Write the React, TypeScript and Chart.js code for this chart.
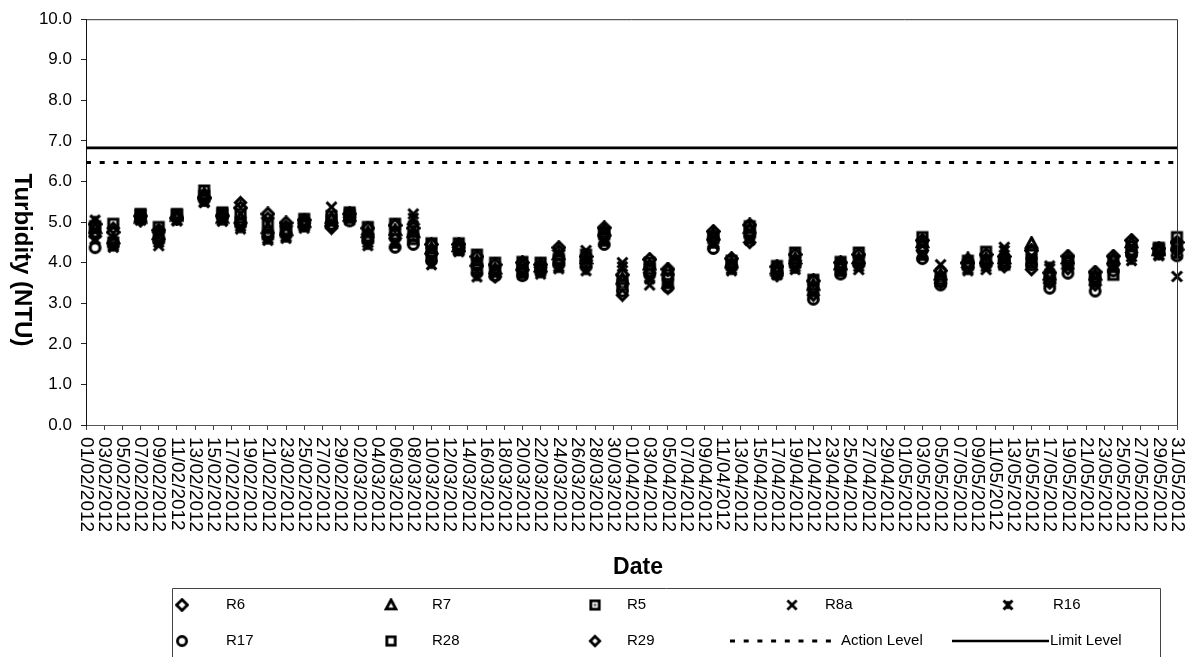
import React, { useEffect, useRef } from 'react';
import { Chart, registerables } from 'chart.js';

Chart.register(...registerables);

// ---------- DATA ----------
const sampleDates = [
  '02/02/2012', '04/02/2012', '07/02/2012', '09/02/2012', '11/02/2012', '14/02/2012', '16/02/2012', '18/02/2012',
  '21/02/2012', '23/02/2012', '25/02/2012', '28/02/2012',
  '01/03/2012', '03/03/2012', '06/03/2012', '08/03/2012', '10/03/2012', '13/03/2012', '15/03/2012', '17/03/2012',
  '20/03/2012', '22/03/2012', '24/03/2012', '27/03/2012', '29/03/2012', '31/03/2012',
  '03/04/2012', '05/04/2012', '10/04/2012', '12/04/2012', '14/04/2012', '17/04/2012', '19/04/2012', '21/04/2012',
  '24/04/2012', '26/04/2012',
  '03/05/2012', '05/05/2012', '08/05/2012', '10/05/2012', '12/05/2012', '15/05/2012', '17/05/2012', '19/05/2012',
  '22/05/2012', '24/05/2012', '26/05/2012', '29/05/2012', '31/05/2012',
];

const r6 = [4.95, 4.75, 5.15, 4.8, 5.1, 5.6, 5.15, 5.35, 5.2, 4.98, 5.05, 4.9, 5.2, 4.85, 4.92, 4.85, 4.45, 4.45, 4.15, 3.95, 4.0, 3.95, 4.37, 4.15, 4.86, 3.7, 4.08, 3.84, 4.77, 4.1, 4.93, 3.9, 4.2, 3.55, 4.0, 4.2, 4.55, 3.8, 4.0, 4.2, 4.15, 4.3, 3.75, 4.16, 3.77, 4.16, 4.55, 4.35, 4.5];
const r7 = [4.85, 4.6, 5.1, 4.7, 5.15, 5.7, 5.1, 5.1, 4.85, 4.8, 5.0, 5.1, 5.15, 4.75, 4.8, 4.75, 4.35, 4.4, 4.05, 3.85, 3.95, 3.9, 4.2, 4.1, 4.8, 3.6, 3.95, 3.82, 4.7, 4.0, 4.85, 3.85, 4.1, 3.45, 3.95, 4.1, 4.5, 3.7, 4.1, 4.1, 4.1, 4.48, 3.7, 4.1, 3.7, 4.1, 4.5, 4.3, 4.45];
const r5 = [4.9, 4.5, 5.2, 4.6, 5.2, 5.78, 5.24, 5.2, 4.7, 4.75, 4.95, 5.05, 5.24, 4.6, 4.7, 4.65, 4.25, 4.35, 3.95, 3.8, 3.85, 4.0, 4.1, 4.0, 4.7, 3.45, 3.85, 3.7, 4.65, 3.95, 4.78, 3.8, 4.0, 3.35, 3.9, 4.05, 4.63, 3.6, 3.95, 4.05, 4.0, 4.2, 3.65, 4.05, 3.6, 4.05, 4.4, 4.37, 4.63];
const r8a = [4.58, 4.42, 5.05, 4.42, 5.05, 5.5, 5.05, 4.9, 4.6, 4.65, 4.9, 5.37, 5.05, 4.5, 4.5, 5.2, 4.1, 4.3, 3.8, 3.7, 3.75, 3.78, 3.9, 4.3, 4.55, 4.0, 3.45, 3.5, 4.5, 3.85, 4.6, 3.72, 3.9, 3.3, 3.8, 3.83, 4.2, 3.95, 3.85, 3.83, 4.38, 4.1, 3.85, 3.95, 3.55, 3.9, 4.15, 4.2, 3.66];
const r16 = [5.05, 4.38, 5.08, 4.5, 5.03, 5.48, 5.02, 4.83, 4.55, 4.6, 4.85, 5.0, 5.1, 4.42, 4.45, 5.1, 3.95, 4.27, 3.65, 3.75, 3.7, 3.72, 3.85, 3.8, 4.5, 3.9, 3.6, 3.45, 4.45, 3.8, 4.55, 3.7, 3.83, 3.25, 3.75, 3.9, 4.15, 3.65, 3.8, 3.9, 4.3, 4.05, 3.92, 3.9, 3.5, 3.85, 4.05, 4.17, 4.2];
const r17 = [4.37, 4.45, 5.12, 4.55, 5.12, 5.55, 5.12, 4.95, 4.65, 4.7, 4.92, 4.95, 5.03, 4.55, 4.38, 4.45, 4.05, 4.32, 3.75, 3.68, 3.68, 3.8, 3.95, 3.9, 4.45, 3.3, 3.7, 3.4, 4.35, 3.9, 4.65, 3.75, 3.95, 3.1, 3.72, 3.95, 4.1, 3.45, 3.9, 3.95, 4.05, 3.95, 3.37, 3.74, 3.3, 3.8, 4.2, 4.25, 4.17];
const r28 = [4.75, 4.96, 5.18, 4.88, 5.18, 5.65, 5.2, 5.0, 4.98, 4.85, 5.08, 5.15, 5.18, 4.88, 4.96, 4.58, 4.48, 4.48, 4.2, 4.0, 4.02, 3.85, 4.05, 4.2, 4.75, 3.55, 4.0, 3.6, 4.6, 4.05, 4.9, 3.92, 4.25, 3.58, 4.02, 4.25, 4.4, 3.55, 4.05, 4.27, 3.95, 4.0, 3.55, 4.0, 3.65, 3.7, 4.3, 4.33, 4.4];
const r29 = [4.65, 4.85, 5.03, 4.75, 5.08, 5.62, 5.18, 5.48, 5.1, 4.9, 4.98, 4.85, 5.12, 4.7, 4.6, 4.95, 4.2, 4.38, 3.9, 3.65, 3.8, 3.88, 4.3, 4.05, 4.65, 3.2, 3.75, 3.37, 4.55, 3.92, 4.5, 3.68, 4.05, 3.2, 3.85, 4.0, 4.3, 3.5, 3.88, 4.0, 3.9, 3.83, 3.5, 3.85, 3.45, 3.95, 4.25, 4.22, 4.3];

const actionLevel = 6.47;
const limitLevel = 6.83;

const axisStartDate = '01/02/2012';
const axisEndDate = '31/05/2012';

const tickLabels = [
  '01/02/2012', '03/02/2012', '05/02/2012', '07/02/2012', '09/02/2012', '11/02/2012', '13/02/2012', '15/02/2012',
  '17/02/2012', '19/02/2012', '21/02/2012', '23/02/2012', '25/02/2012', '27/02/2012', '29/02/2012',
  '02/03/2012', '04/03/2012', '06/03/2012', '08/03/2012', '10/03/2012', '12/03/2012', '14/03/2012', '16/03/2012',
  '18/03/2012', '20/03/2012', '22/03/2012', '24/03/2012', '26/03/2012', '28/03/2012', '30/03/2012',
  '01/04/2012', '03/04/2012', '05/04/2012', '07/04/2012', '09/04/2012', '11/04/2012', '13/04/2012', '15/04/2012',
  '17/04/2012', '19/04/2012', '21/04/2012', '23/04/2012', '25/04/2012', '27/04/2012', '29/04/2012',
  '01/05/2012', '03/05/2012', '05/05/2012', '07/05/2012', '09/05/2012', '11/05/2012', '13/05/2012', '15/05/2012',
  '17/05/2012', '19/05/2012', '21/05/2012', '23/05/2012', '25/05/2012', '27/05/2012', '29/05/2012', '31/05/2012',
];

const yMin = 0;
const yMax = 10;
const yStep = 1;

const seriesNames = ['R6', 'R7', 'R5', 'R8a', 'R16', 'R17', 'R28', 'R29'];
const seriesValues = [r6, r7, r5, r8a, r16, r17, r28, r29];
const seriesMarkers = ['diamond', 'triangle', 'squareDot', 'x', 'star', 'circle', 'square', 'smallDiamond'];

const yTitle = 'Turbidity (NTU)';
const xTitle = 'Date';
const actionLabel = 'Action Level';
const limitLabel = 'Limit Level';

// ---------- HELPERS ----------
const FONT = '"Liberation Sans", Arial, sans-serif';

function parseDay(s: string): number {
  const [d, m, y] = s.split('/').map(Number);
  return Date.UTC(y, m - 1, d) / 86400000;
}
const day0 = parseDay(axisStartDate);
const dayIndex = (s: string) => parseDay(s) - day0;

function makeMarker(kind: string): HTMLCanvasElement {
  const size = 15;
  const c = document.createElement('canvas');
  c.width = size;
  c.height = size;
  const g = c.getContext('2d')!;
  g.strokeStyle = '#000';
  g.fillStyle = '#000';
  g.lineWidth = 3.1;
  g.lineJoin = 'miter';
  const m = size / 2;
  g.beginPath();
  switch (kind) {
    case 'diamond': {
      const r = 5.8;
      g.moveTo(m, m - r); g.lineTo(m + r, m); g.lineTo(m, m + r); g.lineTo(m - r, m); g.closePath();
      g.stroke();
      break;
    }
    case 'smallDiamond': {
      const r = 5;
      g.moveTo(m, m - r); g.lineTo(m + r, m); g.lineTo(m, m + r); g.lineTo(m - r, m); g.closePath();
      g.stroke();
      break;
    }
    case 'triangle': {
      g.moveTo(m, m - 5.4); g.lineTo(m + 5.2, m + 4.3); g.lineTo(m - 5.2, m + 4.3); g.closePath();
      g.stroke();
      break;
    }
    case 'squareDot': {
      g.rect(m - 4.5, m - 4.5, 9, 9);
      g.stroke();
      g.fillStyle = '#777';
      g.fillRect(m - 1.5, m - 1.5, 3, 3);
      break;
    }
    case 'square': {
      g.rect(m - 4.5, m - 4.5, 9, 9);
      g.stroke();
      break;
    }
    case 'x': {
      g.lineWidth = 3;
      g.moveTo(m - 5, m - 5); g.lineTo(m + 5, m + 5);
      g.moveTo(m + 5, m - 5); g.lineTo(m - 5, m + 5);
      g.stroke();
      break;
    }
    case 'star': {
      g.lineWidth = 3.3;
      g.moveTo(m - 4.8, m - 4.8); g.lineTo(m + 4.8, m + 4.8);
      g.moveTo(m + 4.8, m - 4.8); g.lineTo(m - 4.8, m + 4.8);
      g.moveTo(m, m - 4.2); g.lineTo(m, m + 4.2);
      g.stroke();
      break;
    }
    case 'circle': {
      g.arc(m, m, 4.9, 0, Math.PI * 2);
      g.stroke();
      break;
    }
  }
  return c;
}

// ---------- LAYOUT (positions only) ----------
const L = {
  width: 1189,
  height: 657,
  plotLeft: 86,
  plotRightPad: 12,
  plotTop: 18,
  xAxisHeight: 232,
  xLabelTop: 437,
  yTitleX: 22,
  yTitleY: 260,
  xTitleX: 638,
  xTitleY: 568,
  legendLeft: 172,
  legendTop: 588,
  legendRight: 1160,
  row1: 605,
  row2: 641,
  markerCols: [182, 391, 595, 792, 1008],
  textCols: [226, 432, 627, 825, 1053],
};

export default function App() {
  const ref = useRef<HTMLCanvasElement | null>(null);

  useEffect(() => {
    document.body.style.margin = '0';
    const canvas = ref.current!;
    const markers = seriesMarkers.map(makeMarker);
    const xMax = dayIndex(axisEndDate);

    const scatterSets = seriesNames.map((name, i) => ({
      label: name,
      data: sampleDates.map((d, k) => ({ x: dayIndex(d), y: seriesValues[i][k] })),
      showLine: false,
      pointStyle: markers[i],
      pointRadius: 5,
      pointHoverRadius: 5,
      borderColor: '#000',
      backgroundColor: '#000',
      clip: false as any,
      order: 1,
    }));

    const levelSets = [
      {
        label: actionLabel,
        data: [{ x: 0, y: actionLevel }, { x: xMax, y: actionLevel }],
        showLine: true,
        borderColor: '#000',
        borderWidth: 3,
        borderDash: [5, 8.7],
        pointRadius: 0,
        clip: false as any,
        order: 2,
      },
      {
        label: limitLabel,
        data: [{ x: 0, y: limitLevel }, { x: xMax, y: limitLevel }],
        showLine: true,
        borderColor: '#000',
        borderWidth: 2.6,
        pointRadius: 0,
        clip: false as any,
        order: 2,
      },
    ];

    const drawPlugin = {
      id: 'customText',
      afterDraw(chart: any) {
        const ctx: CanvasRenderingContext2D = chart.ctx;
        const area = chart.chartArea;
        const xs = chart.scales.x;
        ctx.save();
        // plot border (top & right)
        ctx.strokeStyle = '#333';
        ctx.lineWidth = 1;
        ctx.beginPath();
        ctx.moveTo(area.left, area.top + 0.5);
        ctx.lineTo(area.right + 0.5, area.top + 0.5);
        ctx.lineTo(area.right + 0.5, area.bottom);
        ctx.stroke();

        // x tick labels, rotated to read top-to-bottom
        ctx.fillStyle = '#000';
        ctx.font = `19px ${FONT}`;
        ctx.textAlign = 'left';
        ctx.textBaseline = 'middle';
        tickLabels.forEach((lab) => {
          const px = xs.getPixelForValue(dayIndex(lab));
          ctx.save();
          ctx.translate(px, L.xLabelTop);
          ctx.rotate(Math.PI / 2);
          ctx.fillText(lab, 0, 0);
          ctx.restore();
        });

        // y title
        ctx.font = `bold 24px ${FONT}`;
        ctx.textAlign = 'center';
        ctx.textBaseline = 'middle';
        ctx.save();
        ctx.translate(L.yTitleX, L.yTitleY);
        ctx.rotate(Math.PI / 2);
        ctx.fillText(yTitle, 0, 0);
        ctx.restore();

        // x title
        ctx.font = `bold 23px ${FONT}`;
        ctx.fillText(xTitle, L.xTitleX, L.xTitleY);

        // legend box
        ctx.strokeStyle = '#444';
        ctx.lineWidth = 1;
        ctx.beginPath();
        ctx.moveTo(L.legendLeft + 0.5, L.height);
        ctx.lineTo(L.legendLeft + 0.5, L.legendTop + 0.5);
        ctx.lineTo(L.legendRight + 0.5, L.legendTop + 0.5);
        ctx.lineTo(L.legendRight + 0.5, L.height);
        ctx.stroke();

        ctx.font = `15px ${FONT}`;
        ctx.textAlign = 'left';
        ctx.textBaseline = 'middle';
        const drawMarkerItem = (i: number, col: number, y: number) => {
          const img = markers[i];
          const s = 14;
          ctx.drawImage(img, L.markerCols[col] - s / 2, y - s / 2, s, s);
          ctx.fillText(seriesNames[i], L.textCols[col], y);
        };
        for (let i = 0; i < 5; i++) drawMarkerItem(i, i, L.row1);
        for (let i = 5; i < 8; i++) drawMarkerItem(i, i - 5, L.row2);

        // action level legend
        ctx.strokeStyle = '#000';
        ctx.lineWidth = 3;
        ctx.setLineDash([5, 8.7]);
        ctx.beginPath();
        ctx.moveTo(730, L.row2);
        ctx.lineTo(838, L.row2);
        ctx.stroke();
        ctx.setLineDash([]);
        ctx.fillText(actionLabel, 841, L.row2);

        // limit level legend
        ctx.lineWidth = 2.4;
        ctx.beginPath();
        ctx.moveTo(952, L.row2);
        ctx.lineTo(1049, L.row2);
        ctx.stroke();
        ctx.fillText(limitLabel, 1050, L.row2);
        ctx.restore();
      },
    };

    const chart = new Chart(canvas, {
      type: 'scatter',
      data: { datasets: [...levelSets, ...scatterSets] as any },
      options: {
        animation: false,
        responsive: false,
        devicePixelRatio: 1,
        events: [],
        layout: { padding: { left: 0, right: L.plotRightPad, top: L.plotTop, bottom: 0 } },
        plugins: {
          legend: { display: false },
          tooltip: { enabled: false },
          title: { display: false },
        },
        scales: {
          x: {
            type: 'linear',
            min: 0,
            max: xMax,
            afterBuildTicks: (scale: any) => {
              scale.ticks = tickLabels.map((t) => ({ value: dayIndex(t) }));
            },
            afterFit: (scale: any) => {
              scale.height = L.xAxisHeight;
            },
            ticks: { display: false },
            grid: {
              display: true,
              drawOnChartArea: false,
              drawTicks: true,
              tickLength: 5,
              color: '#444',
              tickColor: '#444',
            },
            border: { display: true, color: '#555', width: 1 },
          },
          y: {
            type: 'linear',
            min: yMin,
            max: yMax,
            afterFit: (scale: any) => {
              scale.width = L.plotLeft;
            },
            ticks: {
              stepSize: yStep,
              color: '#000',
              padding: 9,
              font: { size: 17, family: FONT },
              callback: (v: any) => Number(v).toFixed(1),
            },
            grid: {
              display: true,
              drawOnChartArea: false,
              drawTicks: true,
              tickLength: 5,
              color: '#222',
              tickColor: '#222',
            },
            border: { display: true, color: '#111', width: 1 },
          },
        },
      },
      plugins: [drawPlugin],
    });

    return () => chart.destroy();
  }, []);

  return (
    <div style={{ width: L.width, height: L.height, background: '#fff' }}>
      <canvas ref={ref} width={L.width} height={L.height} style={{ display: 'block' }} />
    </div>
  );
}
